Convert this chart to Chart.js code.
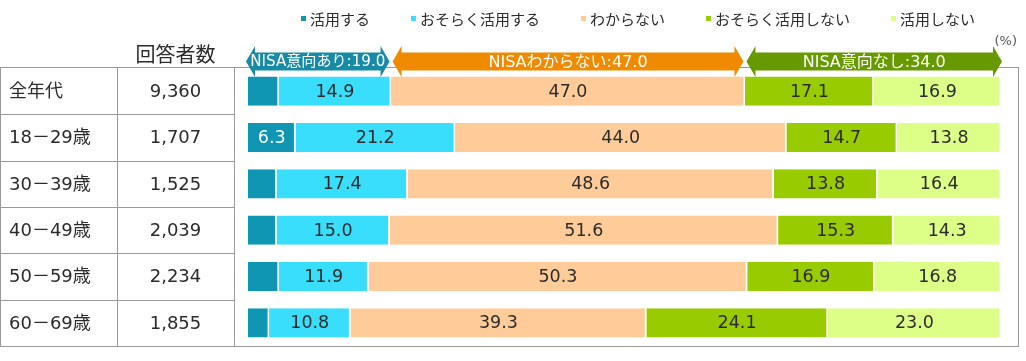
<!DOCTYPE html>
<html lang="ja">
<head>
<meta charset="utf-8">
<title>NISA 活用意向</title>
<script src="https://cdn.jsdelivr.net/npm/chart.js@4.4.1/dist/chart.umd.min.js"></script>
<style>
    html, body { margin: 0; padding: 0; background: #fff; }
    #wrap { width: 1026px; height: 361px; position: relative; }
</style>
</head>
<body>
<div id="wrap"><canvas id="chartNisa"></canvas></div>
<script>
// データ
const ageGroups = ["全年代", "18－29歳", "30－39歳", "40－49歳", "50－59歳", "60－69歳"];
const respondents = ["9,360", "1,707", "1,525", "2,039", "2,234", "1,855"];
const seriesNames = ["活用する", "おそらく活用する", "わからない", "おそらく活用しない", "活用しない"];
const katsuyou = [4.1, 6.3, 3.8, 3.8, 4.1, 2.8];
const osorakuKatsuyou = [14.9, 21.2, 17.4, 15.0, 11.9, 10.8];
const wakaranai = [47.0, 44.0, 48.6, 51.6, 50.3, 39.3];
const osorakuShinai = [17.1, 14.7, 13.8, 15.3, 16.9, 24.1];
const shinai = [16.9, 13.8, 16.4, 14.3, 16.8, 23.0];
const groupLabels = ["NISA意向あり", "NISAわからない", "NISA意向なし"];
const groupTotals = [19.0, 47.0, 34.0];

// 欧文は Verdana 風の DejaVu Sans、和文は Noto Sans CJK JP
const FONT = "'DejaVu Sans', 'Noto Sans CJK JP', sans-serif";
const JP_FONT = "'Noto Sans CJK JP', sans-serif";
const barColors = ["#0f96b2", "#38defc", "#ffcc99", "#99cc00", "#ddff88"];
const arrowColors = ["#178ba6", "#f08a00", "#679a00"];
const lineColor = "#9a9a9a";
const textColor = "#2b2b2b";

// 表（年代・回答者数）と枠線
const tablePlugin = {
    id: "tablePlugin",
    beforeDraw(chart) {
        const { ctx, chartArea, scales } = chart;
        const y = scales.y;
        const step = y.getPixelForValue(1) - y.getPixelForValue(0);
        const top = Math.round(chartArea.top - 1) + 0.5;
        const bottom = Math.round(chartArea.bottom) + 0.5;
        ctx.save();
        ctx.strokeStyle = lineColor;
        ctx.lineWidth = 1;
        ctx.beginPath();
        // 表の横線
        for (let i = 0; i <= ageGroups.length; i++) {
            const yy = Math.round(y.getPixelForValue(i) - step / 2) + 0.5;
            ctx.moveTo(0, i === 0 ? top : yy);
            ctx.lineTo(234, i === 0 ? top : yy);
        }
        // 表の縦線
        ctx.moveTo(0.5, top); ctx.lineTo(0.5, bottom);
        ctx.moveTo(117.5, top); ctx.lineTo(117.5, bottom);
        // グラフ枠
        ctx.moveTo(234.5, top); ctx.lineTo(234.5, bottom);
        ctx.moveTo(234, top); ctx.lineTo(1019, top);
        ctx.moveTo(1018.5, top); ctx.lineTo(1018.5, bottom);
        ctx.moveTo(234, bottom); ctx.lineTo(1019, bottom);
        ctx.stroke();

        ctx.fillStyle = textColor;
        ctx.textBaseline = "middle";
        ctx.font = "20px " + JP_FONT;
        ctx.textAlign = "center";
        ctx.fillText("回答者数", 175.5, 54);

        ctx.font = "18px " + FONT;
        ageGroups.forEach((g, i) => {
            const yy = y.getPixelForValue(i);
            ctx.textAlign = "left";
            ctx.fillText(g, 9, yy + 1);
            ctx.textAlign = "center";
            ctx.fillText(respondents[i], 175.5, yy + 1);
        });
        ctx.restore();
    },
};

// バー内の数値
const valueLabelPlugin = {
    id: "valueLabelPlugin",
    afterDatasetsDraw(chart) {
        const { ctx } = chart;
        ctx.save();
        ctx.font = "17.5px " + FONT;
        ctx.textAlign = "center";
        ctx.textBaseline = "middle";
        chart.data.datasets.forEach((ds, di) => {
            const meta = chart.getDatasetMeta(di);
            meta.data.forEach((el, i) => {
                const v = ds.data[i];
                if (v < 5) return;
                const p = el.getProps(["x", "y", "base"], true);
                ctx.fillStyle = di === 0 ? "#ffffff" : textColor;
                ctx.fillText(v.toFixed(1), (p.x + p.base) / 2, p.y + 1);
            });
        });
        ctx.restore();
    },
};

// 凡例・グループ矢印・(%)
const headerPlugin = {
    id: "headerPlugin",
    afterDraw(chart) {
        const { ctx, scales } = chart;
        const x = scales.x;
        ctx.save();

        // 凡例
        ctx.font = "15px " + JP_FONT;
        ctx.textBaseline = "middle";
        ctx.textAlign = "left";
        let lx = 301;
        seriesNames.forEach((name, i) => {
            ctx.fillStyle = barColors[i];
            ctx.fillRect(lx, 16, 5, 5);
            ctx.fillStyle = textColor;
            ctx.fillText(name, lx + 9, 19);
            lx += 9 + ctx.measureText(name).width + 41;
        });

        // 矢印
        const cy = 61.5, shaftH = 18, headH = 31, headL = 9;
        let acc = 0;
        groupTotals.forEach((t, i) => {
            const x0 = x.getPixelForValue(acc) + (i === 0 ? -2 : 1.5);
            const x1 = x.getPixelForValue(acc + t) - (i === 2 ? -1 : 1.5);
            acc += t;
            ctx.fillStyle = arrowColors[i];
            ctx.beginPath();
            ctx.moveTo(x0, cy);
            ctx.lineTo(x0 + headL, cy - headH / 2);
            ctx.lineTo(x0 + headL, cy - shaftH / 2);
            ctx.lineTo(x1 - headL, cy - shaftH / 2);
            ctx.lineTo(x1 - headL, cy - headH / 2);
            ctx.lineTo(x1, cy);
            ctx.lineTo(x1 - headL, cy + headH / 2);
            ctx.lineTo(x1 - headL, cy + shaftH / 2);
            ctx.lineTo(x0 + headL, cy + shaftH / 2);
            ctx.lineTo(x0 + headL, cy + headH / 2);
            ctx.closePath();
            ctx.fill();

            // 矢印に収まるように文字サイズを調整
            const label = groupLabels[i] + ":" + t.toFixed(1);
            let size = 16;
            ctx.font = size + "px " + FONT;
            const maxW = x1 - x0 - 8;
            const w = ctx.measureText(label).width;
            if (w > maxW) {
                size = Math.floor(size * maxW / w * 10) / 10;
                ctx.font = size + "px " + FONT;
            }
            ctx.fillStyle = "#ffffff";
            ctx.textAlign = "center";
            ctx.fillText(label, (x0 + x1) / 2, cy + 1);
        });

        ctx.fillStyle = "#555";
        ctx.font = "13px " + FONT;
        ctx.textAlign = "right";
        ctx.fillText("(%)", 1017, 42);
        ctx.restore();
    },
};

const seriesData = [katsuyou, osorakuKatsuyou, wakaranai, osorakuShinai, shinai];

new Chart(document.getElementById("chartNisa"), {
    type: "bar",
    data: {
        labels: ageGroups,
        datasets: seriesNames.map((name, i) => ({
            label: name,
            data: seriesData[i],
            backgroundColor: barColors[i],
            borderColor: "#ffffff",
            borderWidth: { left: 0, top: 0, bottom: 0, right: 1.5 },
            borderSkipped: false,
            categoryPercentage: 1,
            barPercentage: 0.63,
        })),
    },
    options: {
        indexAxis: "y",
        responsive: true,
        maintainAspectRatio: false,
        animation: false,
        layout: { padding: { left: 248, right: 25, top: 68, bottom: 15 } },
        plugins: {
            legend: { display: false },
            tooltip: { enabled: false },
        },
        scales: {
            x: { stacked: true, min: 0, max: 100, display: false },
            y: { stacked: true, display: false },
        },
    },
    plugins: [tablePlugin, valueLabelPlugin, headerPlugin],
});
</script>
</body>
</html>
